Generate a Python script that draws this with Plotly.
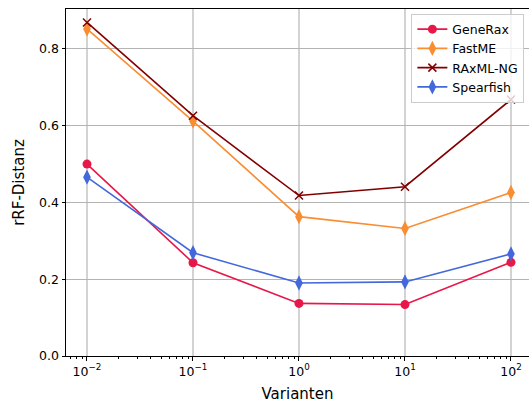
import plotly.graph_objects as go

x_vals = [0.01, 0.1, 1, 10, 100]
generax = [0.500, 0.243, 0.137, 0.134, 0.244]
fastme = [0.852, 0.612, 0.363, 0.332, 0.426]
raxml = [0.869, 0.626, 0.418, 0.441, 0.668]
spearfish = [0.466, 0.269, 0.190, 0.193, 0.266]

series = [
    ("GeneRax", generax, "#E8174A", "circle", 9, 0),
    ("FastME", fastme, "#F98D32", "diamond-tall", 11, 0),
    ("RAxML-NG", raxml, "#800000", "x-thin", 8, 1.5),
    ("Spearfish", spearfish, "#4268DC", "diamond-tall", 11, 0),
]
tick_vals = [0.01, 0.1, 1, 10, 100]
tick_text = ["10<sup>−2</sup>", "10<sup>−1</sup>", "10<sup>0</sup>", "10<sup>1</sup>", "10<sup>2</sup>"]
y_ticks = [0.0, 0.2, 0.4, 0.6, 0.8]

minor_vals = []
for d in [0.001, 0.01, 0.1, 1, 10, 100]:
    for m in range(2, 10):
        minor_vals.append(d * m)

fig = go.Figure()
for name, ys, col, sym, size, lw in series:
    fig.add_trace(go.Scatter(
        x=x_vals, y=ys, name=name, mode="lines+markers",
        line=dict(color=col, width=1.6),
        marker=dict(symbol=sym, size=size, color=col,
                    line=dict(color=col, width=lw)),
    ))

fig.update_layout(
    width=529, height=406,
    margin=dict(l=66, r=0, t=9, b=50),
    paper_bgcolor="white", plot_bgcolor="white",
    font=dict(family="DejaVu Sans", size=12.5, color="black"),
    showlegend=True,
    legend=dict(x=0.99, y=0.987, xanchor="right", yanchor="top",
                bgcolor="rgba(255,255,255,0.8)", bordercolor="#cccccc", borderwidth=1,
                font=dict(size=12.5), tracegroupgap=0, itemwidth=30),
)
fig.update_xaxes(
    type="log", range=[-2.198, 2.17],
    tickvals=tick_vals, ticktext=tick_text,
    showline=True, linecolor="black", linewidth=1, mirror=True,
    ticks="outside", ticklen=3.5, tickcolor="black",
    showgrid=True, gridcolor="#d3d3d3", gridwidth=2,
    minor=dict(tickvals=minor_vals, ticks="outside", ticklen=2, tickcolor="black", showgrid=False),
    title=dict(text="Varianten", standoff=10),
    zeroline=False,
)
fig.update_yaxes(
    range=[0, 0.904],
    tickvals=y_ticks, ticktext=["0.0", "0.2", "0.4", "0.6", "0.8"],
    showline=True, linecolor="black", linewidth=1, mirror=False,
    ticks="outside", ticklen=3.5, tickcolor="black",
    showgrid=True, gridcolor="#b4b4b4", gridwidth=1,
    title=dict(text="rRF-Distanz", standoff=10),
    zeroline=False,
)
fig.write_html("out.html")
